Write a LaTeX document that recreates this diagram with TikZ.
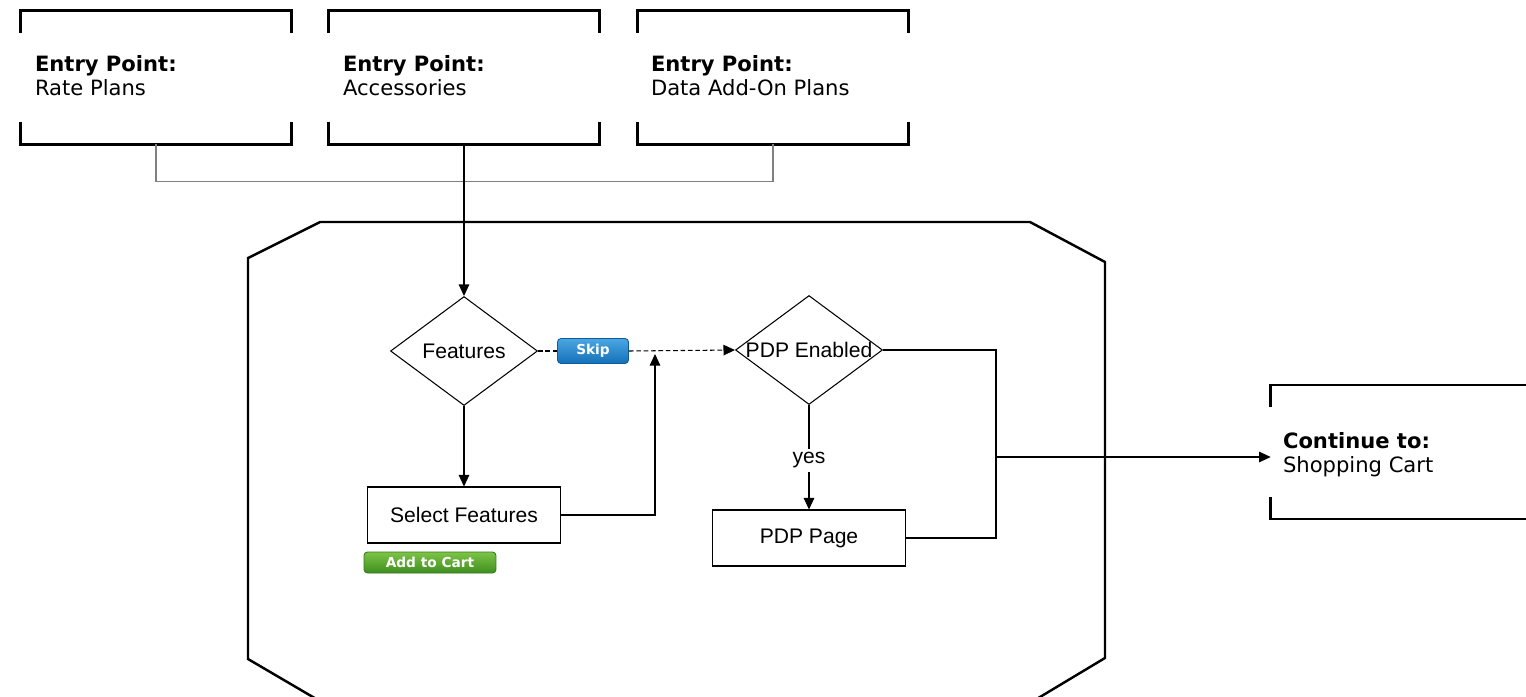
\documentclass[tikz,border=0pt]{standalone}
\usepackage{fontspec}
\setmainfont{Liberation Sans}
\newfontfamily\verdfont{DejaVu Sans}
\usetikzlibrary{arrows.meta,shapes.geometric}
\definecolor{skiptop}{HTML}{4BA6E2}
\definecolor{skipbot}{HTML}{1470B8}
\definecolor{skipedge}{HTML}{0E5C9C}
\definecolor{carttop}{HTML}{7DC447}
\definecolor{cartbot}{HTML}{3E8E1F}
\definecolor{cartedge}{HTML}{37781C}

\begin{document}
\begin{tikzpicture}[
  x=0.02cm, y=-0.02cm,
  font=\fontsize{12}{14}\selectfont,
  entry/.style={minimum width=5.4cm, minimum height=2.66cm, inner sep=0pt},
  entrytxt/.style={anchor=north west, inner sep=0pt, align=left, font=\verdfont\fontsize{12}{13.7}\selectfont},
  frame/.style={line width=1.4pt, black},
  decision/.style={draw, diamond, inner sep=0pt, minimum width=2.94cm, minimum height=2.18cm, line width=0.6pt},
  stepbox/.style={draw, rectangle, minimum width=3.86cm, minimum height=1.12cm, line width=0.6pt},
  btn/.style={rounded corners=2pt, text=white, inner sep=0pt, line width=0.5pt, font=\verdfont\bfseries\fontsize{7.8}{9}\selectfont},
  link/.style={line width=0.6pt, black!50},
  flow/.style={line width=0.6pt, -{Triangle[length=2.3mm,width=2.1mm]}},
  dashflow/.style={line width=0.6pt, dash pattern=on 2.6pt off 1.6pt},
]
\clip (0,0) rectangle (1526,697);
% entry points
\node[entry] (rate) at (156,77.5) {};
\node[entry] (acc)  at (464,77.5) {};
\node[entry] (data) at (773,77.5) {};
\node[entry] (cart) at (1406,452) {};
\foreach \n in {rate,acc,data,cart} {
  \draw[frame] ([shift={(0,22)}]\n.north west) -- (\n.north west) -- (\n.north east) -- ++(0,22);
  \draw[frame] ([shift={(0,-22)}]\n.south west) -- (\n.south west) -- (\n.south east) -- ++(0,-22);
}
\node[entrytxt] (rateTxt) at ([shift={(14,44)}]rate.north west) {\textbf{Entry Point:}\\Rate Plans};
\node[entrytxt] (accTxt)  at ([shift={(14,44)}]acc.north west)  {\textbf{Entry Point:}\\Accessories};
\node[entrytxt] (dataTxt) at ([shift={(13,44)}]data.north west) {\textbf{Entry Point:}\\Data Add-On Plans};
\node[entrytxt] (cartTxt) at ([shift={(12,47)}]cart.north west) {\textbf{Continue to:}\\Shopping Cart};
% feature flow frame
\draw[frame] (248,258) -- (320,222) -- (1030,222) -- (1105,262) -- (1105,658) -- (1035,700) -- (318,700) -- (248,659) -- cycle;
% flow nodes
\node[decision] (feat) at (464,351) {\makebox[0pt]{Features}};
\node[decision] (pdp)  at (809,350) {\makebox[0pt]{PDP Enabled}};
\node[stepbox]  (sel)  at (464,515) {Select Features};
\node[stepbox]  (page) at (809,538) {PDP Page};
\node[btn, draw=skipedge, top color=skiptop, bottom color=skipbot, minimum width=1.42cm, minimum height=0.5cm] (skip) at (593,351) {Skip};
\node[btn, draw=cartedge, top color=carttop, bottom color=cartbot, minimum width=2.64cm, minimum height=0.42cm] (add) at (430,562.5) {Add to Cart};
\coordinate (merge) at (655,354);
\coordinate (bus) at (996,457);
% connectors
\draw[link] (rate.south) -- ++(0,37) -| (data.south);
\draw[flow] (acc.south) -- (feat.north);
\draw[dashflow] (feat.east) -- (skip.west);
\draw[dashflow, -{Triangle[length=2.3mm,width=2.1mm]}] (skip.east) -- (pdp.west);
\draw[flow] (feat.south) -- (sel.north);
\draw[flow] (sel.east) -| (merge);
\draw[flow] (pdp.south) -- node[pos=0.53, fill=white, inner sep=2pt] {yes} (page.north);
\draw[line width=0.6pt] (pdp.east) -| (bus);
\draw[line width=0.6pt] (page.east) -| (bus);
\draw[flow] (bus) -- (bus -| cart.west);
\end{tikzpicture}
\end{document}
